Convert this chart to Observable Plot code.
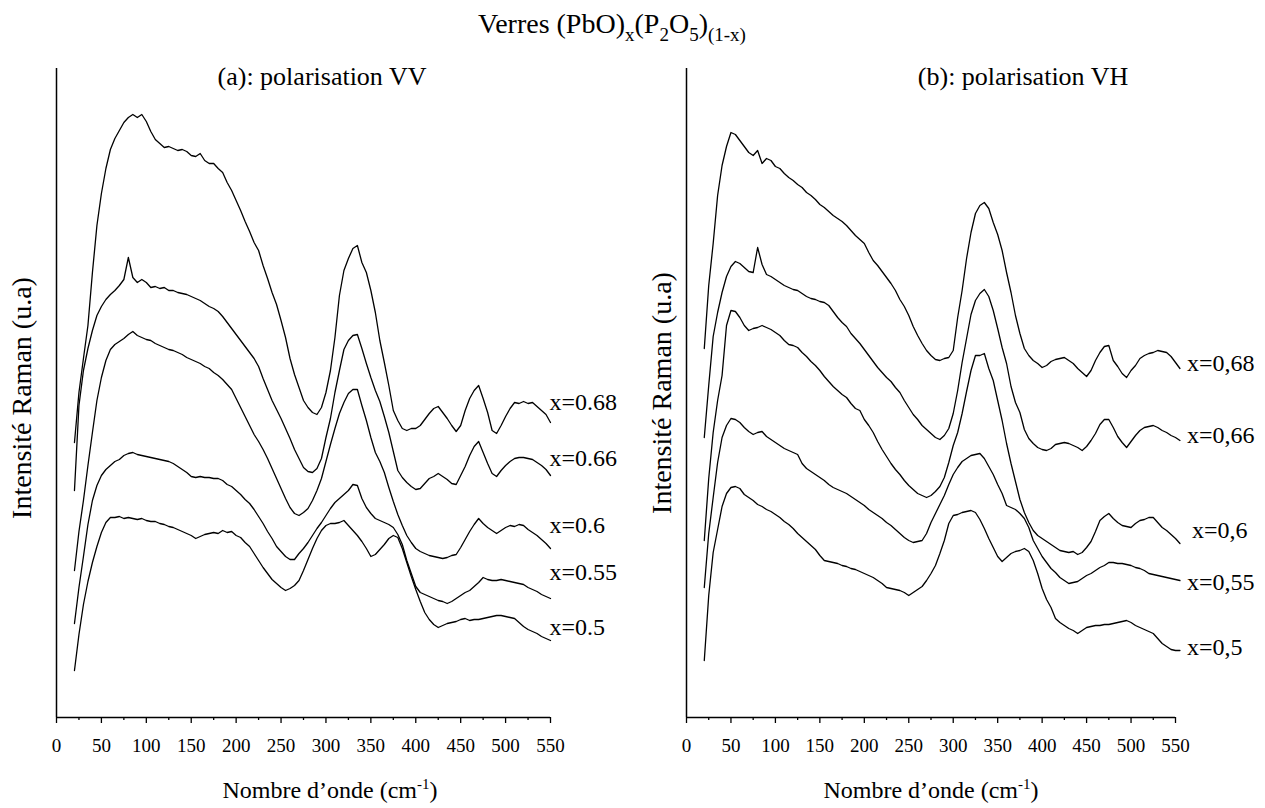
<!DOCTYPE html>
<html><head><meta charset="utf-8">
<script src="https://cdn.jsdelivr.net/npm/d3@7"></script>
<script src="https://cdn.jsdelivr.net/npm/@observablehq/plot@0.6"></script>
<style>
body{margin:0;background:#fff;}
#chart{position:relative;width:1265px;height:808px;background:#fff;}
#chart svg{position:absolute;top:0;}
</style></head><body><div id="chart"></div>
<script>
// Wavenumber sampling (cm-1)
const wnVV = [20,25,30,35,40,45,50,55,60,65,70,75,80,85,90,95,100,105,110,115,120,125,130,135,140,145,150,155,160,165,170,175,180,185,190,195,200,205,210,215,220,225,230,235,240,245,250,255,260,265,270,275,280,285,290,295,300,305,310,315,320,325,330,335,340,345,350,355,360,365,370,375,380,385,390,395,400,405,410,415,420,425,430,435,440,445,450,455,460,465,470,475,480,485,490,495,500,505,510,515,520,525,530,535,540,545,550];
const wnVH = [20,25,30,35,40,45,50,55,60,65,70,75,80,85,90,95,100,105,110,115,120,125,130,135,140,145,150,155,160,165,170,175,180,185,190,195,200,205,210,215,220,225,230,235,240,245,250,255,260,265,270,275,280,285,290,295,300,305,310,315,320,325,330,335,340,345,350,355,360,365,370,375,380,385,390,395,400,405,410,415,420,425,430,435,440,445,450,455,460,465,470,475,480,485,490,495,500,505,510,515,520,525,530,535,540,545,550,555];

// (a) VV polarisation, Raman intensity (a.u., offset spectra)
const vv068 = [275,325,359,392,445,492,524,549,568,579, 587,595,600,603,600,603,596,586,578,574, 570,571,569,567,568,566,562,561,564,557, 554,554,549,545,535,527,517,507,496,486, 475,467,452,439,425,413,397,380,359,343, 330,317,310,305,303,310,325,347,380,422, 447,459,469,472,455,445,427,405,377,355, 332,307,297,289,287,289,289,292,298,304, 309,311,305,299,292,286,292,307,319,327, 332,319,305,287,284,292,301,309,315,314, 316,314,315,311,307,303,295];
const vv066 = [227,312,347,369,387,402,411,418,423,427, 432,438,460,440,435,438,435,430,431,429, 430,427,427,425,424,423,421,419,417,414, 411,409,406,401,395,389,383,377,371,365, 359,351,339,328,317,308,299,289,279,268, 259,250,246,245,249,259,280,299,325,347, 368,377,382,383,369,354,340,327,316,301, 285,266,247,240,235,231,228,229,234,239, 241,244,241,238,234,233,242,251,262,271, 276,265,254,244,241,247,252,256,259,260, 260,259,258,255,252,248,242];
const vv060 = [147,186,217,252,285,317,340,357,368,373, 376,379,383,386,382,380,378,377,374,372, 370,368,367,365,363,360,358,356,354,351, 349,345,342,338,333,328,319,310,301,292, 283,276,268,259,249,239,229,219,210,204, 202,205,209,217,227,239,256,273,289,304, 315,324,328,328,312,297,280,265,256,245, 230,216,203,192,182,175,169,166,164,162, 161,160,159,160,162,163,170,178,186,193, 199,194,190,187,184,187,190,192,191,193, 192,188,185,182,178,174,169];
const vv055 = [94,130,161,193,217,232,242,248,252,256, 258,262,264,265,263,262,261,260,259,258, 257,256,254,251,248,245,241,240,241,240, 240,239,239,237,233,231,227,223,218,214, 208,201,194,186,179,171,166,161,158,158, 164,169,175,182,189,195,202,209,215,219, 223,227,233,232,219,210,204,199,197,195, 193,190,183,173,157,144,131,125,123,121, 119,117,116,114,116,119,122,125,127,131, 135,140,138,137,137,138,137,136,135,134, 133,130,128,126,123,121,119];
const vv050 = [47,83,113,136,155,171,185,195,200,200, 201,199,200,199,198,199,197,196,196,194, 193,191,190,188,186,184,182,179,181,183, 184,185,184,187,185,186,182,180,175,171, 164,157,150,144,138,134,130,127,129,132, 137,147,158,169,179,187,192,194,194,195, 197,192,187,182,176,169,161,163,168,173, 179,182,180,169,155,141,128,116,105,98, 93,90,92,94,95,96,98,99,97,98, 98,99,100,101,102,102,101,100,99,95, 91,88,86,84,81,79,77];

// (b) VH polarisation
const vh068 = [369,432,474,522,552,571,585,583,577,571, 565,562,567,554,559,557,551,549,544,540, 537,533,530,525,522,518,513,510,506,502, 499,496,492,487,482,478,474,465,457,452, 446,440,434,427,418,411,402,391,382,374, 367,362,358,357,359,360,367,400,427,459, 485,504,512,515,509,495,483,467,445,425, 402,384,369,362,357,354,350,352,356,358, 359,360,357,354,349,345,341,347,357,365, 371,372,357,351,344,340,347,352,359,362, 364,365,367,366,365,361,355,349];
const vh066 = [280,332,381,405,425,441,451,456,454,450, 446,445,470,453,443,441,438,435,432,430, 428,427,424,421,419,418,416,415,412,406, 400,395,391,384,379,374,368,362,356,350, 345,340,336,330,325,317,310,303,298,292, 288,284,280,278,282,289,304,327,355,379, 403,417,424,428,421,407,389,370,354,331, 315,305,288,279,274,270,268,267,269,273, 274,275,274,272,270,267,271,277,284,293, 298,298,290,281,275,270,276,282,287,290, 291,292,290,287,285,282,280,277];
const vh060 = [177,239,285,317,342,392,407,406,400,392, 387,389,390,392,390,388,385,382,377,373, 372,370,365,361,356,352,347,341,336,331, 327,323,320,314,309,307,298,292,285,276, 268,261,254,248,243,237,232,228,224,222, 220,222,226,231,240,255,272,285,304,326, 347,362,362,364,349,337,317,297,274,254, 236,218,205,195,187,182,179,176,173,170, 167,166,165,166,163,165,170,176,186,197, 201,204,199,195,192,191,190,194,197,198, 200,200,195,190,187,183,179,174];
const vh055 = [130,184,220,255,280,292,299,298,295,290, 286,283,285,286,281,278,275,272,269,267, 265,263,254,249,246,243,240,237,233,230, 228,226,224,221,218,215,212,208,205,202, 199,195,192,188,184,180,177,175,176,177, 184,195,204,213,222,233,243,250,256,259, 262,263,264,259,251,243,233,224,212,210, 208,204,199,190,177,169,161,155,149,145, 140,137,134,135,136,139,142,144,147,150, 152,155,155,154,154,153,152,150,149,147, 144,143,142,141,140,139,138,137];
const vh050 = [57,122,165,188,211,224,230,231,229,223, 220,217,213,211,208,206,203,200,196,193, 189,184,180,176,172,168,162,157,156,155, 154,152,151,149,148,146,144,142,140,137, 134,130,129,128,127,125,122,125,128,131, 137,144,152,164,177,194,202,203,205,206, 207,205,198,189,179,170,161,156,160,164, 166,167,169,166,157,144,129,118,110,99, 95,92,89,87,84,87,90,91,92,92, 93,93,94,95,96,97,95,92,90,88, 86,84,79,74,71,68,67,67];

const labelsVV = ["x=0.68","x=0.66","x=0.6","x=0.55","x=0.5"];
const labelsVH = ["x=0,68","x=0,66","x=0,6","x=0,55","x=0,5"];
const xMajor = [0,50,100,150,200,250,300,350,400,450,500,550];
const xMinor = [25,75,125,175,225,275,325,375,425,475,525];

const FONT = "'Liberation Serif','Times New Roman',serif";
const root = document.getElementById("chart");

function panel({wn, series, labels, dxs, dys, width, marginLeft, marginRight, left}) {
  const rows = [];
  series.forEach((s, i) => s.forEach((v, j) => rows.push({wn: wn[j], I: v, k: labels[i]})));
  const ends = series.map((s, i) => ({wn: wn[s.length - 1], I: s[s.length - 1], label: labels[i]}));
  const svg = Plot.plot({
    width, height: 808, marginLeft, marginRight, marginTop: 68, marginBottom: 91,
    x: {domain: [0, 550]},
    y: {domain: [0, 649], axis: null},
    style: {background: "transparent", fontFamily: FONT, fontSize: "19px", color: "#000", overflow: "visible"},
    marks: [
      Plot.ruleX([0], {stroke: "#000", strokeWidth: 1.5}),
      Plot.ruleY([0], {stroke: "#000", strokeWidth: 1.5}),
      Plot.axisX({ticks: xMajor, tickSize: 6, tickPadding: 15, fontSize: 19, strokeWidth: 1.3, label: null, tickFormat: d => String(d)}),
      Plot.axisX({ticks: xMinor, tickSize: 3, strokeWidth: 1.3, label: null, tickFormat: () => ""}),
      Plot.lineY(rows, {x: "wn", y: "I", z: "k", stroke: "#000", strokeWidth: 1.3}),
      ...ends.map((e, i) => Plot.text([e], {x: "wn", y: "I", text: "label", textAnchor: "start", dx: dxs[i], dy: dys[i], fontSize: 24, fill: "#000"}))
    ]
  });
  svg.style.left = left + "px";
  root.appendChild(svg);
}

panel({wn: wnVV, series: [vv068, vv066, vv060, vv055, vv050], labels: labelsVV,
  dxs: [-1,-1,-1,-1,-1], dys: [-20,-17,-23,-26,-13], width: 632, marginLeft: 56, marginRight: 82, left: 0});
panel({wn: wnVH, series: [vh068, vh066, vh060, vh055, vh050], labels: labelsVH,
  dxs: [7,7,12,7,7], dys: [-5,-5,-13,2,-3], width: 633, marginLeft: 54, marginRight: 90, left: 632});

// Overlay text: titles and axis labels
const ov = d3.select(root).append("svg")
  .attr("width", 1265).attr("height", 808)
  .style("left", "0px").style("pointer-events", "none")
  .attr("font-family", FONT).attr("fill", "#000");

const title = ov.append("text").attr("x", 612).attr("y", 33).attr("text-anchor", "middle").attr("font-size", 28);
title.append("tspan").text("Verres (PbO)");
title.append("tspan").attr("font-size", 19).attr("dy", 8).text("x");
title.append("tspan").attr("dy", -8).text("(P");
title.append("tspan").attr("font-size", 19).attr("dy", 8).text("2");
title.append("tspan").attr("dy", -8).text("O");
title.append("tspan").attr("font-size", 19).attr("dy", 8).text("5");
title.append("tspan").attr("dy", -8).text(")");
title.append("tspan").attr("font-size", 19).attr("dy", 8).text("(1-x)");

ov.append("text").attr("x", 322).attr("y", 85).attr("text-anchor", "middle").attr("font-size", 26).text("(a): polarisation VV");
ov.append("text").attr("x", 1023).attr("y", 85).attr("text-anchor", "middle").attr("font-size", 26).text("(b): polarisation VH");

function xLabel(cx) {
  const t = ov.append("text").attr("x", cx).attr("y", 798).attr("text-anchor", "middle").attr("font-size", 24);
  t.append("tspan").text("Nombre d\u2019onde (cm");
  t.append("tspan").attr("font-size", 15).attr("dy", -9).text("-1");
  t.append("tspan").attr("dy", 9).text(")");
}
xLabel(330);
xLabel(931);

function yLabel(x, cy) {
  ov.append("text").attr("transform", `translate(${x},${cy}) rotate(-90)`)
    .attr("text-anchor", "middle").attr("font-size", 28).text("Intensit\u00e9 Raman (u.a)");
}
yLabel(31, 398);
yLabel(671, 393);
</script></body></html>
